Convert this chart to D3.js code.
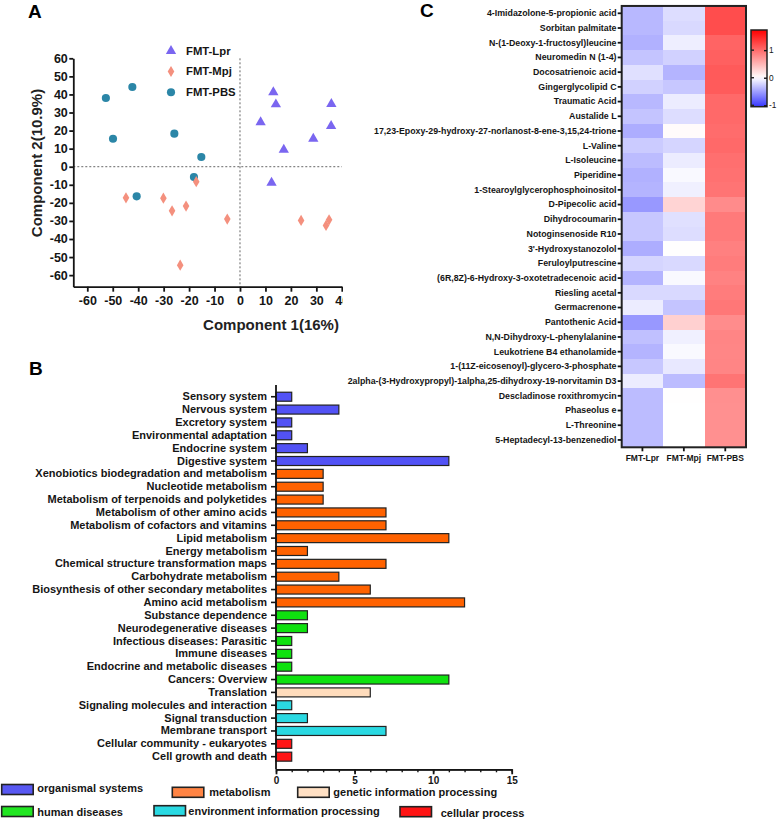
<!DOCTYPE html>
<html><head><meta charset="utf-8">
<script src="https://cdn.jsdelivr.net/npm/d3@7"></script>
<style>
body{margin:0;background:#fff}
svg{display:block;font-family:"Liberation Sans",Arial,sans-serif}
</style>
</head><body>
<svg id="c" width="777" height="819"></svg>
<script>
// ---------- Panel A data (PCA scores) ----------
const scatterGroups = ["FMT-Lpr", "FMT-Mpj", "FMT-PBS"];
const lprX = [13.1, 14.1, 35.9, 8.1, 35.8, 28.8, 17.2, 12.4];
const lprY = [41.2, 34.5, 34.7, 24.6, 22.5, 15.5, 9.4, -8.9];
const mpjX = [-44.8, -30.1, -26.7, -21.2, -17.2, -5.0, -23.5, 24.0, 33.8, 35.0];
const mpjY = [-17.2, -17.4, -24.4, -21.8, -8.3, -29.0, -54.5, -29.7, -32.5, -29.4];
const pbsX = [-52.7, -42.3, -49.9, -25.8, -15.2, -18.1, -40.6];
const pbsY = [38.0, 44.1, 15.5, 18.3, 5.4, -5.7, -16.4];
const pcaXTicks = [-60, -50, -40, -30, -20, -10, 0, 10, 20, 30, 40];
const pcaYTicks = [-60, -50, -40, -30, -20, -10, 0, 10, 20, 30, 40, 50, 60];
const pcaXTitle = "Component 1(16%)";
const pcaYTitle = "Component 2(10.9%)";

// ---------- Panel B data (KEGG pathway counts) ----------
const pathways = ["Sensory system", "Nervous system", "Excretory system", "Environmental adaptation",
  "Endocrine system", "Digestive system", "Xenobiotics biodegradation and metabolism", "Nucleotide metabolism",
  "Metabolism of terpenoids and polyketides", "Metabolism of other amino acids", "Metabolism of cofactors and vitamins",
  "Lipid metabolism", "Energy metabolism", "Chemical structure transformation maps", "Carbohydrate metabolism",
  "Biosynthesis of other secondary metabolites", "Amino acid metabolism", "Substance dependence",
  "Neurodegenerative diseases", "Infectious diseases: Parasitic", "Immune diseases",
  "Endocrine and metabolic diseases", "Cancers: Overview", "Translation", "Signaling molecules and interaction",
  "Signal transduction", "Membrane transport", "Cellular community - eukaryotes", "Cell growth and death"];
const pathwayCounts = [1, 4, 1, 1, 2, 11, 3, 3, 3, 7, 7, 11, 2, 7, 4, 6, 12, 2, 2, 1, 1, 1, 11, 6, 1, 2, 7, 1, 1];
const pathwayClass = ["org", "org", "org", "org", "org", "org", "met", "met", "met", "met", "met", "met", "met",
  "met", "met", "met", "met", "hum", "hum", "hum", "hum", "hum", "hum", "gen", "env", "env", "env", "cel", "cel"];
const classKeys = ["org", "met", "gen", "hum", "env", "cel"];
const classNames = ["organismal systems", "metabolism", "genetic information processing",
  "human diseases", "environment information processing", "cellular process"];
const countTicks = [0, 5, 10, 15];

// ---------- Panel C data (z-scored heatmap) ----------
const heatGroups = ["FMT-Lpr", "FMT-Mpj", "FMT-PBS"];
const metabolites = ["4-Imidazolone-5-propionic acid", "Sorbitan palmitate", "N-(1-Deoxy-1-fructosyl)leucine",
  "Neuromedin N (1-4)", "Docosatrienoic acid", "Gingerglycolipid C", "Traumatic Acid", "Austalide L",
  "17,23-Epoxy-29-hydroxy-27-norlanost-8-ene-3,15,24-trione", "L-Valine", "L-Isoleucine", "Piperidine",
  "1-Stearoylglycerophosphoinositol", "D-Pipecolic acid", "Dihydrocoumarin", "Notoginsenoside R10",
  "3'-Hydroxystanozolol", "Feruloylputrescine", "(6R,8Z)-6-Hydroxy-3-oxotetradecenoic acid", "Riesling acetal",
  "Germacrenone", "Pantothenic Acid", "N,N-Dihydroxy-L-phenylalanine", "Leukotriene B4 ethanolamide",
  "1-(11Z-eicosenoyl)-glycero-3-phosphate", "2alpha-(3-Hydroxypropyl)-1alpha,25-dihydroxy-19-norvitamin D3",
  "Descladinose roxithromycin", "Phaseolus e", "L-Threonine", "5-Heptadecyl-13-benzenediol"];
const lprZ = [-0.37, -0.37, -0.41, -0.31, -0.16, -0.24, -0.37, -0.31, -0.43, -0.27, -0.35, -0.41, -0.39, -0.54,
  -0.29, -0.29, -0.43, -0.22, -0.39, -0.20, -0.10, -0.54, -0.33, -0.39, -0.29, -0.10, -0.35, -0.35, -0.35, -0.35];
const mpjZ = [-0.18, -0.20, -0.09, -0.24, -0.39, -0.29, -0.10, -0.18, 0.03, -0.22, -0.10, -0.03, -0.08, 0.29,
  -0.16, -0.18, 0.01, -0.20, -0.03, -0.20, -0.31, 0.32, -0.08, -0.03, -0.12, -0.35, 0.01, 0.0, 0.0, 0.0];
const pbsZ = [1.21, 1.21, 1.05, 1.08, 1.12, 1.11, 1.02, 1.02, 1.00, 1.02, 0.98, 0.96, 0.94, 0.79,
  0.90, 0.90, 0.86, 0.89, 0.85, 0.89, 0.92, 0.78, 0.83, 0.82, 0.83, 0.94, 0.76, 0.75, 0.75, 0.75];
const colorTicks = [-1, 0, 1];
const colorMin = -1.05, colorMax = 1.73;

// ---------- drawing ----------
const ink = "#151515";
const svg = d3.select("#c");
const defs = svg.append("defs");

function styleAxis(g, size, weight, sw) {
  g.selectAll("text").attr("font-size", size).attr("font-weight", weight).attr("fill", ink)
    .attr("font-family", '"Liberation Sans",Arial,sans-serif');
  g.selectAll("line").attr("stroke", ink).attr("stroke-width", sw);
  g.selectAll("path.domain").attr("stroke", ink).attr("stroke-width", sw);
}
const plainNum = d => String(d);

// ===== Panel A =====
defs.append("clipPath").attr("id", "clipA").append("rect")
  .attr("x", 0).attr("y", 0).attr("width", 343).attr("height", 345);
const gA = svg.append("g").attr("clip-path", "url(#clipA)");
const xA = d3.scaleLinear().domain([-65.5, 40]).range([73.3, 341.8]);
const yA = d3.scaleLinear().domain([-66.4, 60]).range([286.7, 58.3]);

// reference lines
gA.append("line").attr("x1", xA(0)).attr("x2", xA(0)).attr("y1", yA(60)).attr("y2", yA(-66.4))
  .attr("stroke", "#666").attr("stroke-width", 1).attr("stroke-dasharray", "2,2");
gA.append("line").attr("x1", xA(-65.5)).attr("x2", xA(40)).attr("y1", yA(0)).attr("y2", yA(0))
  .attr("stroke", "#666").attr("stroke-width", 1).attr("stroke-dasharray", "2,2");

const axA_y = gA.append("g").attr("transform", `translate(${xA(-65.5)},0)`)
  .call(d3.axisLeft(yA).tickValues(pcaYTicks).tickFormat(plainNum).tickSize(4).tickPadding(1.5).tickSizeOuter(0));
styleAxis(axA_y, 12.5, "bold", 1.8);
const axA_x = gA.append("g").attr("transform", `translate(0,${yA(-66.4)})`)
  .call(d3.axisBottom(xA).tickValues(pcaXTicks).tickFormat(plainNum).tickSize(5).tickPadding(4).tickSizeOuter(0));
styleAxis(axA_x, 12.5, "bold", 1.8);

const triColor = "#7a66f0", diaColor = "#f4907e", cirColor = "#2b86a7";
const triPath = d3.symbol().type(d3.symbolTriangle).size(46)();
const cirPath = d3.symbol().type(d3.symbolCircle).size(52)();
const diaPath = "M0,-5.6L3.3,0L0,5.6L-3.3,0Z";

gA.append("g").selectAll("path").data(d3.zip(pbsX, pbsY)).join("path")
  .attr("d", cirPath).attr("fill", cirColor)
  .attr("transform", d => `translate(${xA(d[0])},${yA(d[1])})`);
gA.append("g").selectAll("path").data(d3.zip(mpjX, mpjY)).join("path")
  .attr("d", diaPath).attr("fill", diaColor)
  .attr("transform", d => `translate(${xA(d[0])},${yA(d[1])})`);
gA.append("g").selectAll("path").data(d3.zip(lprX, lprY)).join("path")
  .attr("d", triPath).attr("fill", triColor)
  .attr("transform", d => `translate(${xA(d[0])},${yA(d[1])})`);

// legend A
const legA = [[triPath, triColor, 51], [diaPath, diaColor, 71.5], [cirPath, cirColor, 92.3]];
legA.forEach((l, i) => {
  gA.append("path").attr("d", l[0]).attr("fill", l[1]).attr("transform", `translate(171,${l[2]})`);
  gA.append("text").attr("x", 186).attr("y", l[2] + 3.5).text(scatterGroups[i])
    .attr("font-size", 11.3).attr("font-weight", "bold").attr("fill", ink);
});

gA.append("text").attr("x", 271).attr("y", 330).attr("text-anchor", "middle")
  .attr("font-size", 15).attr("font-weight", "bold").attr("fill", "#222").text(pcaXTitle);
gA.append("text").attr("transform", "translate(42,163) rotate(-90)").attr("text-anchor", "middle")
  .attr("font-size", 15).attr("font-weight", "bold").attr("fill", "#222").text(pcaYTitle);

svg.append("text").attr("x", 28).attr("y", 18).attr("font-size", 19).attr("font-weight", "bold")
  .attr("fill", "#000").text("A");

// ===== Panel B =====
const classColor = d3.scaleOrdinal().domain(classKeys)
  .range(["#5252f5", "#ff6200", "#ffdcbc", "#0fe20f", "#2ad9e2", "#ff1414"]);
const legendColor = d3.scaleOrdinal().domain(classKeys)
  .range(["#5858f2", "#ff8444", "#ffe0c4", "#22e622", "#2ad9e2", "#ff1414"]);
const xB = d3.scaleLinear().domain([0, 15]).range([276, 511.7]);
const yB = d3.scaleBand().domain(pathways).range([390.3, 763.1]).paddingInner(0.3).paddingOuter(0.15);
const gB = svg.append("g");

gB.append("g").selectAll("rect").data(pathways).join("rect")
  .attr("x", xB(0)).attr("y", d => yB(d))
  .attr("width", (d, i) => xB(pathwayCounts[i]) - xB(0))
  .attr("height", yB.bandwidth())
  .attr("fill", (d, i) => classColor(pathwayClass[i]))
  .attr("stroke", "#222").attr("stroke-width", 1.2);

const axB_y = gB.append("g").attr("transform", `translate(${xB(0)},0)`)
  .call(d3.axisLeft(yB).tickSize(5).tickPadding(4).tickSizeOuter(0));
axB_y.select("path.domain").remove();
styleAxis(axB_y, 11, "bold", 1.6);
gB.append("line").attr("x1", xB(0)).attr("x2", xB(0)).attr("y1", 385).attr("y2", 769.3)
  .attr("stroke", ink).attr("stroke-width", 1.8);

const axB_minor = gB.append("g").attr("transform", "translate(0,769.3)")
  .call(d3.axisBottom(xB).tickValues(d3.range(0, 16)).tickSize(3).tickFormat("").tickSizeOuter(0));
styleAxis(axB_minor, 10, "bold", 1.4);
const axB_x = gB.append("g").attr("transform", "translate(0,769.3)")
  .call(d3.axisBottom(xB).tickValues(countTicks).tickFormat(plainNum).tickSize(5).tickPadding(3).tickSizeOuter(0));
styleAxis(axB_x, 10, "bold", 1.8);

// legend B
const legB = [
  ["org", 1.7, 784.5, 37.3, 792.3],
  ["met", 172.3, 787.3, 209.3, 795.6],
  ["gen", 297.7, 787.3, 333.3, 795.6],
  ["hum", 1.7, 806.5, 37.3, 815.5],
  ["env", 154, 805.7, 188.3, 815],
  ["cel", 400, 806.7, 440.7, 816.5]];
legB.forEach(l => {
  gB.append("rect").attr("x", l[1]).attr("y", l[2]).attr("width", 31.5).attr("height", 10)
    .attr("fill", legendColor(l[0])).attr("stroke", "#222").attr("stroke-width", 1.6);
  gB.append("text").attr("x", l[3]).attr("y", l[4]).text(classNames[classKeys.indexOf(l[0])])
    .attr("font-size", 11).attr("font-weight", "bold").attr("fill", ink);
});

svg.append("text").attr("x", 29).attr("y", 375).attr("font-size", 19).attr("font-weight", "bold")
  .attr("fill", "#000").text("B");

// ===== Panel C =====
const xC = d3.scaleBand().domain(heatGroups).range([621.7, 746]);
const yC = d3.scaleBand().domain(metabolites).range([5.95, 447.3]);
const heatColor = d3.scaleLinear().domain([colorMin, 0, colorMax]).range(["#3636ff", "#ffffff", "#ff0000"]);
const zCols = [lprZ, mpjZ, pbsZ];
const cells = [];
metabolites.forEach((m, i) => heatGroups.forEach((g, j) => cells.push({m, g, v: zCols[j][i]})));
const gC = svg.append("g");
gC.append("g").selectAll("rect").data(cells).join("rect")
  .attr("x", d => xC(d.g)).attr("y", d => yC(d.m))
  .attr("width", xC.bandwidth() + 0.4).attr("height", yC.bandwidth() + 0.4)
  .attr("fill", d => heatColor(d.v)).attr("shape-rendering", "crispEdges");
gC.append("rect").attr("x", 621.7).attr("y", 5.95).attr("width", 746 - 621.7).attr("height", 447.3 - 5.95)
  .attr("fill", "none").attr("stroke", "#222").attr("stroke-width", 2);

const axC_y = gC.append("g").attr("transform", "translate(621.7,0)")
  .call(d3.axisLeft(yC).tickSize(4).tickPadding(1.2).tickSizeOuter(0));
axC_y.select("path.domain").remove();
styleAxis(axC_y, 8.8, "bold", 1.8);
const axC_x = gC.append("g").attr("transform", "translate(0,447.3)")
  .call(d3.axisBottom(xC).tickSize(4).tickPadding(3.5).tickSizeOuter(0));
axC_x.select("path.domain").remove();
styleAxis(axC_x, 8.5, "bold", 1.8);

// color bar
const grad = defs.append("linearGradient").attr("id", "cbar").attr("x1", 0).attr("x2", 0).attr("y1", 0).attr("y2", 1);
d3.range(0, 1.0001, 0.05).forEach(t => {
  const v = colorMax - t * (colorMax - colorMin);
  grad.append("stop").attr("offset", t).attr("stop-color", heatColor(v));
});
const yCB = d3.scaleLinear().domain([colorMin, colorMax]).range([106.7, 30]);
gC.append("rect").attr("x", 751).attr("y", 30).attr("width", 16).attr("height", 76.7)
  .attr("fill", "url(#cbar)").attr("stroke", "#222").attr("stroke-width", 1.5);
gC.append("g").selectAll("line").data(colorTicks).join("line")
  .attr("x1", 751).attr("x2", 754).attr("y1", d => yCB(d)).attr("y2", d => yCB(d))
  .attr("stroke", "#222").attr("stroke-width", 1.4);
const axCB = gC.append("g").attr("transform", "translate(767,0)")
  .call(d3.axisRight(yCB).tickValues(colorTicks).tickFormat(plainNum).tickSize(-3).tickPadding(2).tickSizeOuter(0));
axCB.select("path.domain").remove();
styleAxis(axCB, 8.3, "normal", 1.4);

svg.append("text").attr("x", 420).attr("y", 17).attr("font-size", 19).attr("font-weight", "bold")
  .attr("fill", "#000").text("C");
</script>
</body></html>
